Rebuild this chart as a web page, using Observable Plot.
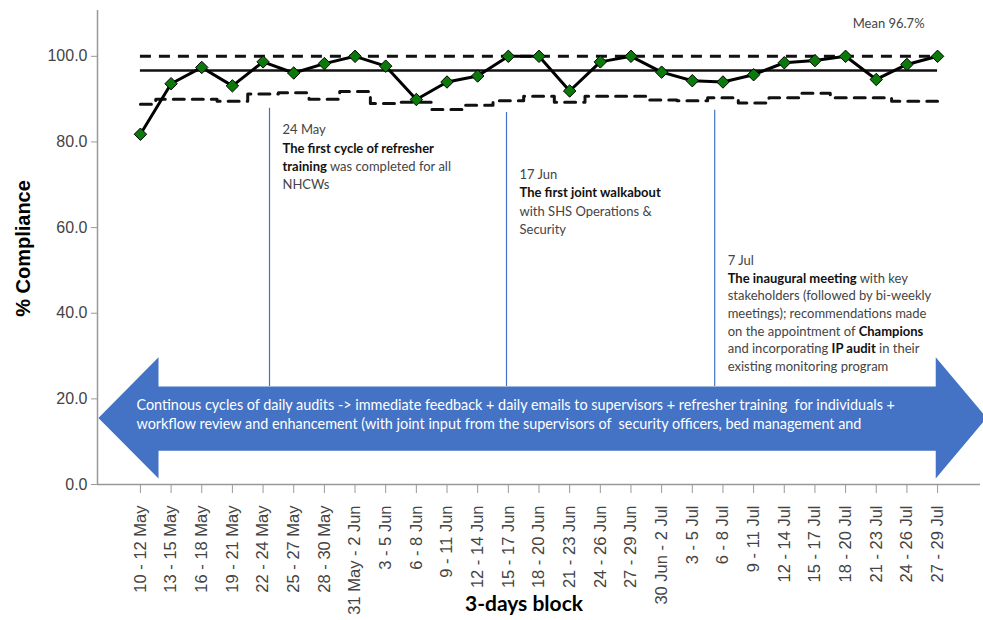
<!DOCTYPE html>
<html><head><meta charset="utf-8">
<script src="https://cdn.jsdelivr.net/npm/d3@7"></script>
<script src="https://cdn.jsdelivr.net/npm/@observablehq/plot@0.6"></script>
<style>
html,body{margin:0;padding:0;background:#fff;overflow:hidden}
#chart svg{display:block}
</style></head><body><div id="chart"></div>
<script>
// ---- data ----
const blocks = ["10 - 12 May","13 - 15 May","16 - 18 May","19 - 21 May","22 - 24 May","25 - 27 May","28 - 30 May","31 May - 2 Jun","3 - 5 Jun","6 - 8 Jun","9 - 11 Jun","12 - 14 Jun","15 - 17 Jun","18 - 20 Jun","21 - 23 Jun","24 - 26 Jun","27 - 29 Jun","30 Jun - 2 Jul","3 - 5 Jul","6 - 8 Jul","9 - 11 Jul","12 - 14 Jul","15 - 17 Jul","18 - 20 Jul","21 - 23 Jul","24 - 26 Jul","27 - 29 Jul"];
const compliance = [81.8,93.6,97.4,93.1,98.7,96.1,98.3,100,97.7,89.9,94.0,95.4,100,100,91.9,98.7,100,96.3,94.3,94.0,95.7,98.5,99.0,100,94.6,98.1,100];
const lcl = [88.8,90.0,90.0,89.5,91.2,91.5,90.0,91.8,89.0,89.3,87.6,88.6,89.6,90.7,89.3,90.7,90.7,89.8,89.6,90.3,89.1,90.3,91.4,90.3,90.3,89.5,89.5];
const ucl = 100;
const mean = 96.7;
const meanLabel = "Mean 96.7%";
const yLabel = "% Compliance";
const xLabel = "3-days block";
const yTicks = [0, 20, 40, 60, 80, 100];
const yMax = 110.7;

const events = [
  {x: 4.21, top: 87.9, textTop: 84.8, lh: 1.4, lines: ["24 May", "**The first cycle of refresher**", "**training** was completed for all", "NHCWs"]},
  {x: 11.94, top: 86.9, textTop: 74.3, lh: 1.4, lines: ["17 Jun", "**The first joint walkabout**", "with SHS Operations &", "Security"]},
  {x: 18.73, top: 87.4, textTop: 54.2, lh: 1.36, lines: ["7 Jul", "**The inaugural meeting** with key", "stakeholders (followed by bi-weekly", "meetings); recommendations made", "on the appointment of **Champions**", "and incorporating **IP audit** in their", "existing monitoring program"]}
];
const arrowText = [
  "Continous cycles of daily audits -> immediate feedback + daily emails to supervisors + refresher training  for individuals +",
  "workflow review and enhancement (with joint input from the supervisors of  security officers, bed management and"
];
// arrow extent in data units (x: block index, y: % compliance)
const arrowX = [-1.37, 0.59, 25.94, 27.6];   // tip, head base, head base, tip
const arrowShaft = [7.9, 22.9];
const arrowHead = [1.4, 29.7];

// ---- derived ----
const rows = blocks.map((b, i) => ({i, block: b, v: compliance[i], lcl: lcl[i]}));
const midY = (arrowHead[0] + arrowHead[1]) / 2;
const arrowPoly = [
  [arrowX[0], midY], [arrowX[1], arrowHead[1]], [arrowX[1], arrowShaft[1]], [arrowX[2], arrowShaft[1]],
  [arrowX[2], arrowHead[1]], [arrowX[3], midY], [arrowX[2], arrowHead[0]], [arrowX[2], arrowShaft[0]],
  [arrowX[1], arrowShaft[0]], [arrowX[1], arrowHead[0]], [arrowX[0], midY]
].map(([x, y]) => ({x, y}));

const blue = "#4472C4";
const lato = "Lato, 'Open Sans', sans-serif";

const chart = Plot.plot({
  width: 983, height: 620,
  marginLeft: 97, marginRight: 3, marginTop: 10, marginBottom: 136,
  style: {fontFamily: "'Liberation Sans', Arial, sans-serif", fontSize: "14px", background: "#fff"},
  x: {type: "linear", domain: [-1.4, 27.4]},
  y: {domain: [0, yMax]},
  marks: [
    // arrow
    Plot.line(arrowPoly, {x: "x", y: "y", fill: blue, stroke: "none", curve: "linear"}),
    Plot.text([arrowText.join("\n")], {x: () => 0, y: () => 16.6, text: d => d, dx: -4, textAnchor: "start", lineAnchor: "middle", lineHeight: 1.35, fill: "white", fontSize: 14.4, fontFamily: lato}),
    // event lines
    Plot.ruleX(events, {x: "x", y1: "top", y2: arrowShaft[1], stroke: blue, strokeWidth: 1.2}),
    ...events.map(e => Plot.text([e.lines.join("\n")], {x: () => e.x, y: () => e.textTop, text: d => d, dx: 13, textAnchor: "start", lineAnchor: "top", lineHeight: e.lh, fill: "#444", fontSize: 13, fontFamily: lato})),
    // axes lines
    Plot.ruleY([0], {stroke: "#999", strokeWidth: 1.5}),
    Plot.ruleX([-1.4], {y1: 0, y2: yMax, stroke: "#999", strokeWidth: 1.5}),
    Plot.axisY(yTicks, {tickFormat: d3.format(".1f"), tickSize: 6, tickPadding: 4, stroke: "#999", fill: "#444", fontSize: 16, label: null}),
    Plot.axisX(d3.range(blocks.length), {tickFormat: i => blocks[i], tickRotate: -90, tickSize: 9, tickPadding: 12, stroke: "#999", fill: "#444", fontSize: 16.5, label: null}),
    // control lines
    Plot.ruleY([ucl], {x1: 0, x2: blocks.length - 1, stroke: "#111", strokeWidth: 3, strokeDasharray: "11,8"}),
    Plot.line(rows, {x: "i", y: "lcl", curve: "step", stroke: "#111", strokeWidth: 3, strokeDasharray: "11,8"}),
    Plot.ruleY([mean], {x1: 0, x2: blocks.length - 1, stroke: "#111", strokeWidth: 2.5}),
    // data
    Plot.line(rows, {x: "i", y: "v", stroke: "#000", strokeWidth: 3}),
    Plot.dot(rows, {x: "i", y: "v", symbol: "diamond2", r: 5.6, fill: "#0b7a0b", stroke: "#000", strokeWidth: 1}),
    // labels
    Plot.text([meanLabel], {x: () => blocks.length - 1, y: () => 107.5, text: d => d, textAnchor: "end", dx: -13, fill: "#444", fontSize: 13, fontFamily: lato}),
    Plot.text([yLabel], {frameAnchor: "left", text: d => d, rotate: -90, textAnchor: "middle", dx: -74, dy: 1, fontWeight: "bold", fontSize: 20, fill: "#000"}),
    Plot.text([xLabel], {frameAnchor: "bottom", text: d => d, dy: 126, dx: -15, fontWeight: "bold", fontSize: 21, fill: "#000", fontFamily: lato})
  ]
});
document.getElementById("chart").appendChild(chart);

// rich text: **bold** segments
const NS = "http://www.w3.org/2000/svg";
chart.querySelectorAll("text, tspan").forEach(el => {
  if (el.children.length) return;
  const s = el.textContent;
  if (!s.includes("**")) return;
  el.textContent = "";
  s.split("**").forEach((part, k) => {
    if (!part) return;
    const t = document.createElementNS(NS, "tspan");
    t.textContent = part;
    if (k % 2 === 1) { t.setAttribute("font-weight", "bold"); t.setAttribute("fill", "#111"); }
    el.appendChild(t);
  });
});
</script></body></html>
